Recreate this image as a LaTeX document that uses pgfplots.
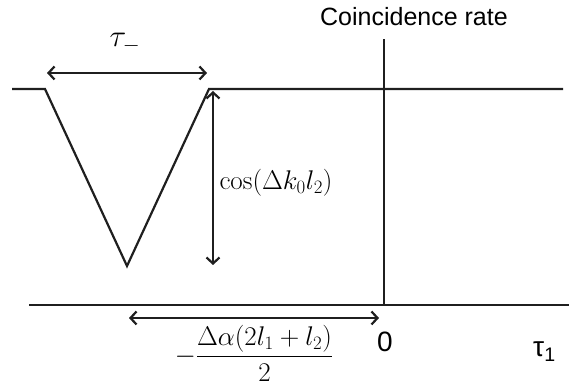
\RequirePackage{fix-cm}
\documentclass[border=0pt]{standalone}
\usepackage{fontspec}
\newfontfamily\arial{Liberation Sans}
\usepackage{amsmath}
\usepackage{pgfplots}
\pgfplotsset{compat=1.18}
\usetikzlibrary{arrows.meta}

\begin{document}
\begin{tikzpicture}
\begin{axis}[
  width=571pt, height=387pt, scale only axis,
  xmin=0, xmax=571, ymin=0, ymax=387,
  axis lines=none, clip=false,
  ln/.style={black!88, line width=2.2pt, mark=none},
  ar/.style={ln, {Straight Barb[length=6pt,width=13pt]}-{Straight Barb[length=6pt,width=13pt]}}
]
% signal with the dip
\addplot[ln] coordinates {(12,298) (45,298) (127,121) (209,298) (563,298)};
% axes
\addplot[ln] coordinates {(29,82) (569,82)};
\addplot[ln] coordinates {(384,82) (384,348)};
% arrows
\addplot[ar] coordinates {(47,314) (207,314)};
\addplot[ar] coordinates {(213,296) (213,122)};
\addplot[ar] coordinates {(129,69) (379,69)};

\node[font=\fontsize{31}{35}\selectfont] at (axis cs:125,344) {$\tau_-$};
\node[anchor=west, font=\fontsize{27}{31}\selectfont] at (axis cs:216,204) {$\cos(\Delta k_0 l_2)$};
\node[anchor=south, inner sep=0pt, font=\fontsize{27}{31}\selectfont] at (axis cs:254,5) {$-\dfrac{\Delta\alpha(2l_1+l_2)}{2}$};
\node[font=\arial\fontsize{25}{29}\selectfont] at (axis cs:414,370) {Coincidence rate};
\node[font=\arial\fontsize{28}{32}\selectfont] at (axis cs:385,45) {0};
\node[anchor=base west, inner sep=0pt, font=\arial\fontsize{28}{32}\selectfont] at (axis cs:533,30) {τ\textsubscript{1}};
\end{axis}
% keep the page the size of the axis box
\path[use as bounding box] (current axis.south west) rectangle (current axis.north east);
\end{tikzpicture}
\end{document}
